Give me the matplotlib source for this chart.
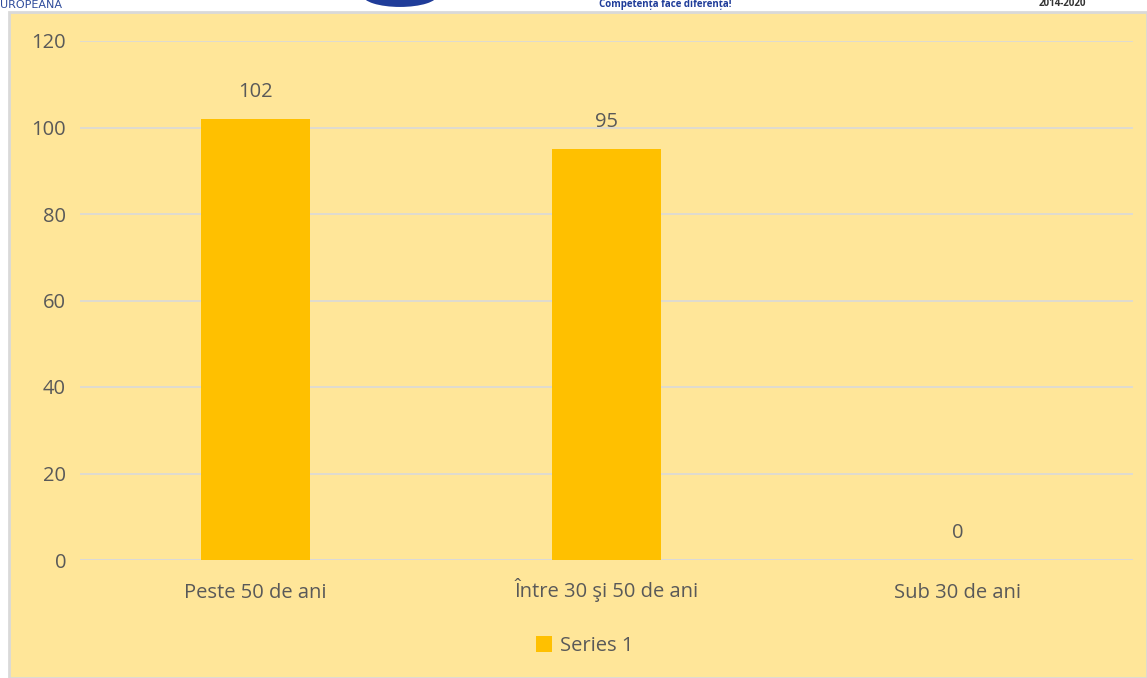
import matplotlib.pyplot as plt
from matplotlib.patches import Rectangle, Ellipse

categories = ['Peste 50 de ani', 'Între 30 şi 50 de ani', 'Sub 30 de ani']
values = [102, 95, 0]
series_name = 'Series 1'
yticks = [0, 20, 40, 60, 80, 100, 120]

bg = '#FFE699'
bar_color = '#FFC000'
text_color = '#595959'
grid_color = '#D9D9D9'

plt.rcParams['font.family'] = ['Open Sans', 'DejaVu Sans']

fig = plt.figure(figsize=(11.47, 6.78), dpi=100)
fig.patch.set_facecolor('white')

# chart area (yellow box below the cropped page header)
fig.patches.append(Rectangle((9 / 1147, 0), 1 - 9 / 1147, 1 - 12 / 678,
                             transform=fig.transFigure, facecolor=bg,
                             edgecolor='#D9D9D9', linewidth=2, zorder=-2))

# cropped page header bits
fig.text(0.0, 1 - 5 / 678, 'UROPEANĂ', color='#2E4B9B', fontsize=8,
         ha='left', va='center', family=['Liberation Sans Narrow', 'DejaVu Sans'])
fig.text(1062 / 1147, 1 - 4 / 678, '2014-2020', color='#333333', fontsize=7,
         ha='center', va='center', fontweight='bold')
fig.text(665 / 1147, 1 - 5 / 678, 'Competența face diferența!', color='#1F3C99',
         fontsize=7, ha='center', va='center', fontweight='bold')
fig.patches.append(Ellipse((400 / 1147, 1 + 4 / 678), 76 / 1147, 24 / 678,
                           transform=fig.transFigure, facecolor='#1F3C99',
                           edgecolor='white', linewidth=1.5, zorder=-1))

ax = fig.add_axes([80 / 1147, 1 - 560 / 678, (1133 - 80) / 1147, (560 - 41) / 678])
ax.set_facecolor('none')

x = range(len(categories))
bars = ax.bar(x, values, width=0.313, color=bar_color, label=series_name, zorder=3)

for xi, v in zip(x, values):
    ax.annotate(str(v), (xi, v), xytext=(0, 12), textcoords='offset points',
                ha='center', va='bottom', fontsize=14.5, color=text_color)

ax.set_xlim(-0.5, len(categories) - 0.5)
ax.set_ylim(0, 120)
ax.set_yticks(yticks)
ax.set_xticks(list(x))
ax.set_xticklabels(categories, va='baseline')
ax.tick_params(axis='both', length=0, labelsize=14.5, colors=text_color)
ax.tick_params(axis='y', pad=10)
ax.tick_params(axis='x', pad=27)
ax.grid(axis='y', color=grid_color, linewidth=1.2, zorder=0)
for s in ax.spines.values():
    s.set_visible(False)
ax.axhline(0, color=grid_color, linewidth=1.2, zorder=1)

leg = fig.legend(loc='center', bbox_to_anchor=(585 / 1147, 1 - 646 / 678),
                 frameon=False, fontsize=14.5, handlelength=0.8, handleheight=0.8,
                 handletextpad=0.4)
for t in leg.get_texts():
    t.set_color(text_color)

fig.savefig('out.png', dpi=100, facecolor=fig.get_facecolor())
